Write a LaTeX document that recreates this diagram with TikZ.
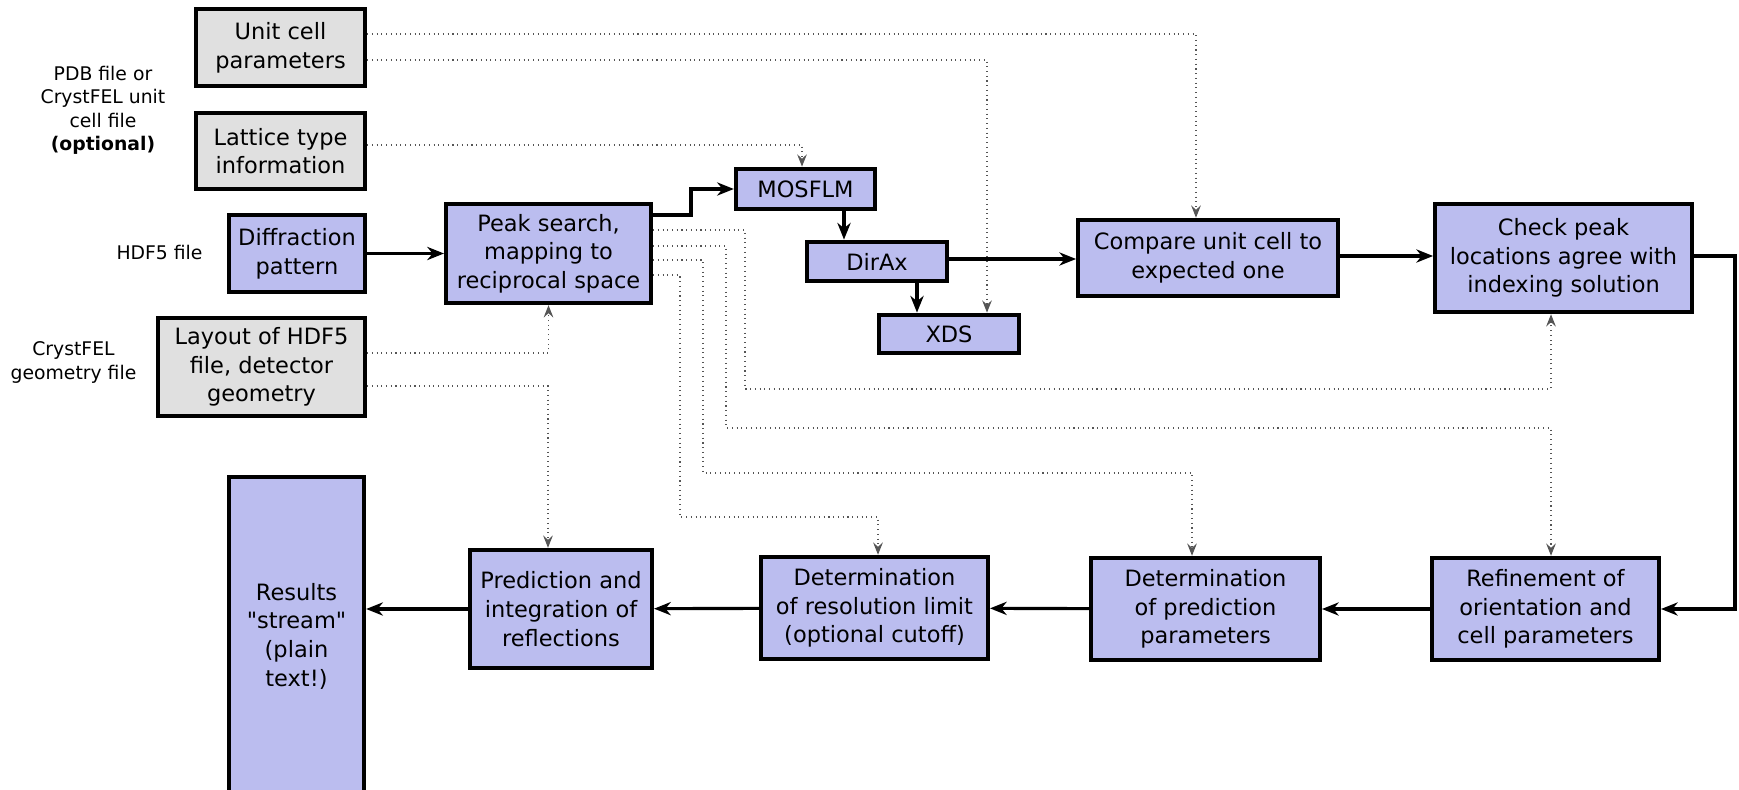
\documentclass[tikz,border=0pt]{standalone}
\usepackage{fontspec}
\setmainfont{DejaVu Sans}[Ligatures=TeXOff]
\usetikzlibrary{arrows.meta}
\definecolor{boxblue}{HTML}{BBBDEF}
\definecolor{boxgray}{HTML}{E0E0E0}
\definecolor{dotgray}{HTML}{555555}
\tikzset{
  sz/.style 2 args={minimum width=#1*0.5669pt, minimum height=#2*0.5669pt},
  bluebox/.style={draw=black, line width=2.2pt, fill=boxblue, align=center, inner sep=0pt,
    font=\fontsize{12.8}{16.3}\selectfont},
  graybox/.style={bluebox, fill=boxgray},
  flow/.style={line width=1.8pt, -{Stealth[length=9.5pt,width=7.5pt,inset=3pt]}},
  dep/.style={draw=dotgray, line width=0.7pt, dash pattern=on 0.6pt off 2.1pt,
    -{Stealth[length=7pt,width=5.5pt,inset=2.5pt]}},
  lbl/.style={align=center, font=\fontsize{10.7}{13.4}\selectfont},
}
\begin{document}
\begin{tikzpicture}[x=0.02cm,y=-0.02cm]
\useasboundingbox (0,0) rectangle (1739,790);
% left labels
\node[lbl] (l1) at (103,110.5) {PDB file or\\CrystFEL unit\\cell file\\\textbf{(optional)}};
\node[lbl] (l2) at (159.5,252) {HDF5 file};
\node[lbl] (l3) at (73.5,362.5) {CrystFEL\\geometry file};
% input boxes
\node[graybox, sz={170}{78}] (unit) at (280.5,47.5) {Unit cell\\parameters};
\node[graybox, sz={170}{77}] (lat) at (280.5,151) {Lattice type\\information};
\node[bluebox, sz={137}{78}] (dif) at (297,253.5) {Diffraction\\pattern};
\node[graybox, sz={208}{99}] (lay) at (261.5,367) {Layout of HDF5\\file, detector\\geometry};
% processing boxes
\node[bluebox, sz={206}{100}] (peak) at (548.5,253.5) {Peak search,\\mapping to\\reciprocal space};
\node[bluebox, sz={140}{41}] (mos) at (805.5,189) {MOSFLM};
\node[bluebox, sz={141}{40}] (dax) at (877,261.5) {DirAx};
\node[bluebox, sz={141}{39}] (xds) at (949,334) {XDS};
\node[bluebox, sz={261}{77}] (cmp) at (1208,258) {Compare unit cell to\\expected one};
\node[bluebox, sz={258}{109}] (chk) at (1563.5,258) {Check peak\\locations agree with\\indexing solution};
\node[bluebox, sz={228}{103}] (ref) at (1545.5,609) {Refinement of\\orientation and\\cell parameters};
\node[bluebox, sz={230}{103}] (dpp) at (1205.5,609) {Determination\\of prediction\\parameters};
\node[bluebox, sz={228}{103}] (drl) at (874.5,608) {Determination\\of resolution limit\\(optional cutoff)};
\node[bluebox, sz={183}{119}] (pred) at (561,609) {Prediction and\\integration of\\reflections};
\node[bluebox, sz={136}{320}] (res) at (296.5,636) {Results\\"stream"\\(plain\\text!)};
% dotted dependencies
\draw[dep] (unit.east |- 0,34) -| (cmp.north -| 1196,0);
\draw[dep] (unit.east |- 0,60) -| (xds.north -| 987,0);
\draw[dep] (lat.east |- 0,145) -| (mos.north -| 802,0);
\draw[dep] (lay.east |- 0,353) -| (peak.south);
\draw[dep] (lay.east |- 0,386) -| (pred.north -| 548,0);
\draw[dep] (peak.east |- 0,230) -- (745,230) -- (745,389) -| (chk.south -| 1551,0);
\draw[dep] (peak.east |- 0,246) -- (726,246) -- (726,428) -| (ref.north -| 1551,0);
\draw[dep] (peak.east |- 0,260) -- (703,260) -- (703,473) -| (dpp.north -| 1192,0);
\draw[dep] (peak.east |- 0,275) -- (680,275) -- (680,517) -| (drl.north -| 878,0);
% main flow
\draw[flow] (dif) -- (peak);
\draw[flow] (peak.east |- 0,215) -- (691,215) |- (mos.west);
\draw[flow] (mos.south -| 844,0) -- (dax.north -| 844,0);
\draw[flow] (dax.south -| 917,0) -- (xds.north -| 917,0);
\draw[flow] (dax.east |- 0,259) -- (cmp.west |- 0,259);
\draw[flow] (cmp.east |- 0,256) -- (chk.west |- 0,256);
\draw[flow] (chk.east |- 0,256) -- (1735,256) |- (ref.east);
\draw[flow] (ref) -- (dpp);
\draw[flow] (dpp) -- (drl);
\draw[flow] (drl) -- (pred);
\draw[flow] (pred.west) -- (res.east |- pred.west);
\end{tikzpicture}
\end{document}
